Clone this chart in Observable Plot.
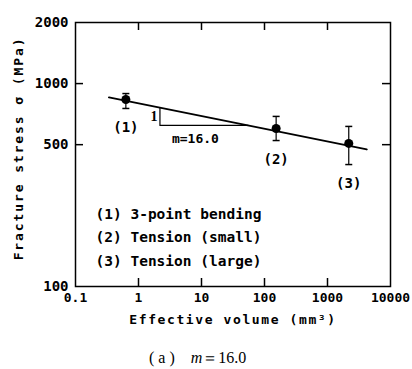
<!DOCTYPE html>
<html><head><meta charset="utf-8">
<script src="https://cdn.jsdelivr.net/npm/d3@7"></script>
<script src="https://cdn.jsdelivr.net/npm/@observablehq/plot@0.6"></script>
<style>
body{margin:0;background:#fff;}
#wrap{position:relative;width:412px;height:369px;overflow:hidden;}
#cap{position:absolute;left:149px;top:348px;font-family:"Liberation Serif",serif;font-size:16px;color:#000;white-space:pre;line-height:20px;}
#cap i{font-style:italic;}
</style></head><body>
<div id="wrap"><div id="chart"></div><div id="cap">( a )    <i>m</i>＝16.0</div></div>
<script>
// data
const volumes = [0.63, 153, 2175];          // effective volume (mm^3)
const stress = [835, 601, 507];             // mean fracture stress (MPa)
const stressHi = [893, 689, 615];
const stressLo = [754, 524, 399];
const pointLabels = ["(1)", "(2)", "(3)"];
const fitV = [0.34, 4200];
const fitS = [855, 474];
const triV = [2.19, 2.19, 55];
const triS = [761, 622, 622];
const legendItems = ["(1) 3-point bending", "(2) Tension (small)", "(3) Tension (large)"];
const xTicks = [0.1, 1, 10, 100, 1000, 10000];
const xInnerTicks = [1, 10, 100, 1000];
const yTicks = [100, 500, 1000, 2000];
const yInnerTicks = [500, 1000];
const xLabel = "Effective volume (mm³)";
const yLabel = "Fracture stress σ (MPa)";

const capSymbol = {draw(ctx, size) { const r = Math.sqrt(size / Math.PI); ctx.moveTo(-r, 0); ctx.lineTo(r, 0); }};
const W = 412, H = 338, mL = 75, mR = 22, mT = 22, mB = 52;
const fw = W - mL - mR, fh = H - mT - mB, tl = 8;
const mono = "DejaVu Sans Mono";

const chart = Plot.plot({
  width: W, height: H, marginLeft: mL, marginRight: mR, marginTop: mT, marginBottom: mB,
  x: {type: "log", domain: [0.1, 10000]},
  y: {type: "log", domain: [100, 2000]},
  style: {fontFamily: mono, fontSize: "13px", color: "black", background: "white"},
  marks: [
    Plot.axisX(xTicks, {anchor: "bottom", tickSize: 0, tickPadding: 6, tickFormat: d => String(d), label: null, fontSize: 13, fontWeight: "bold"}),
    Plot.axisY(yTicks, {anchor: "left", tickSize: 0, tickPadding: 7, tickFormat: d => String(d), label: null, fontSize: 14, fontWeight: "bold"}),
    Plot.ruleX(xInnerTicks, {x: d => d, insetTop: fh - tl, strokeWidth: 1.5}),
    Plot.ruleX(xInnerTicks, {x: d => d, insetBottom: fh - tl, strokeWidth: 1.5}),
    Plot.ruleY(yInnerTicks, {y: d => d, insetRight: fw - tl, strokeWidth: 1.5}),
    Plot.ruleY(yInnerTicks, {y: d => d, insetLeft: fw - tl, strokeWidth: 1.5}),
    Plot.frame({stroke: "black", strokeWidth: 1.5}),
    Plot.line(fitV, {x: d => d, y: (d, i) => fitS[i], stroke: "black", strokeWidth: 2}),
    Plot.line(triV, {x: d => d, y: (d, i) => triS[i], stroke: "black", strokeWidth: 1.2}),
    Plot.ruleX(volumes, {x: d => d, y1: (d, i) => stressLo[i], y2: (d, i) => stressHi[i], strokeWidth: 1.2}),
    Plot.dot(volumes, {x: d => d, y: (d, i) => stressHi[i], symbol: capSymbol, r: 3.5, stroke: "black", strokeWidth: 1.5}),
    Plot.dot(volumes, {x: d => d, y: (d, i) => stressLo[i], symbol: capSymbol, r: 3.5, stroke: "black", strokeWidth: 1.5}),
    Plot.dot(volumes, {x: d => d, y: (d, i) => stress[i], r: 4.5, fill: "black"}),
    Plot.text(pointLabels, {x: (d, i) => volumes[i], y: (d, i) => stressLo[i], dy: 19, text: d => d, fontSize: 14, fontWeight: "bold"}),
    Plot.text(["1"], {x: () => triV[0], y: () => Math.sqrt(triS[0] * triS[1]), dx: -6, text: d => d, fontFamily: "Liberation Serif", fontSize: 14, fontWeight: "bold"}),
    Plot.text(["m=16.0"], {x: () => 8, y: () => triS[2], dy: 13, text: d => d, fontSize: 13, fontWeight: "bold"}),
    Plot.text([legendItems.join("\n")], {frameAnchor: "bottom-left", lineAnchor: "bottom", lineHeight: 1.6, dx: 20, dy: -21, text: d => d, fontSize: 14.5, fontWeight: "bold", textAnchor: "start"}),
    Plot.text([xLabel], {frameAnchor: "bottom", dy: 37, dx: 0, text: d => d, fontSize: 13, fontWeight: "bold"}),
    Plot.text([yLabel], {frameAnchor: "left", textAnchor: "middle", dx: -57, dy: -6, rotate: -90, text: d => d, fontSize: 13, fontWeight: "bold"})
  ]
});
document.getElementById("chart").appendChild(chart);
const svg = d3.select(chart);
svg.selectAll("text").filter(function() { return this.textContent === xLabel; }).style("letter-spacing", "1.6px");
svg.selectAll("text").filter(function() { return this.textContent === yLabel; }).style("letter-spacing", "1.9px");
</script>
</body></html>
